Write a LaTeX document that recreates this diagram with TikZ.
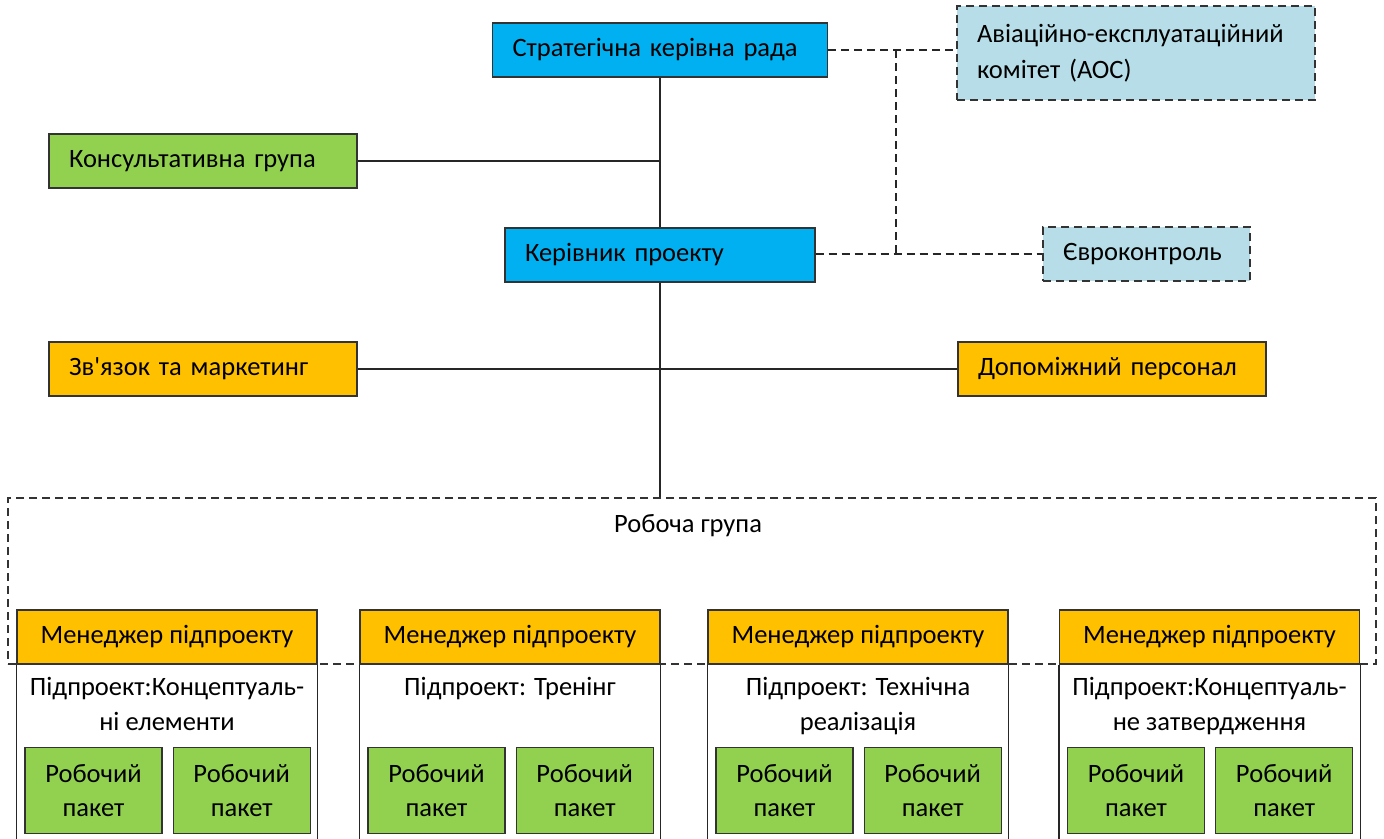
\documentclass[tikz,border=0pt]{standalone}
\usepackage{fontspec}
\setmainfont{Carlito}
\usetikzlibrary{positioning}
\definecolor{radablue}{HTML}{00B0F0}
\definecolor{aocblue}{HTML}{B7DEE8}
\definecolor{pkgreen}{HTML}{92D050}
\definecolor{mgorange}{HTML}{FFC000}
\tikzset{
	box/.style={draw=black!80, line width=1.2pt, minimum height=54pt, inner xsep=20pt, inner ysep=0pt, font=\fontsize{26.5}{36}\selectfont},
	wbox/.style={box, align=left, text width=#1},
	dbox/.style={dash pattern=on 8pt off 5pt},
	link/.style={line width=1.2pt, draw=black!85},
	dlink/.style={link, dash pattern=on 8pt off 5pt},
	header/.style={box, fill=mgorange, minimum width=300pt, align=center},
	body/.style={inner sep=0pt, align=center, font=\fontsize{26.5}{35}\selectfont},
	paket/.style={box, fill=pkgreen, minimum width=137pt, minimum height=86pt, inner xsep=2pt, align=center, font=\fontsize{26.5}{34}\selectfont},
}

\begin{document}
\begin{tikzpicture}[x=1pt, y=-1pt]
			\useasboundingbox[fill=white] (0,0) rectangle (1384,838);
			\coordinate (bottom) at (0,850);
			% upper part
			\node[wbox=295pt, fill=radablue] (rada) at (660,50) {Стратегічна керівна рада};
			\node[wbox=318pt, fill=aocblue, dbox, minimum height=94pt] (aoc) at (1136,53) {Авіаційно-експлуатаційний\\комітет (АОС)};
			\node[wbox=268pt, fill=pkgreen] (konsult) at (203,161) {Консультативна група};
			\node[wbox=270pt, fill=radablue] (kerivnyk) at (660,255) {Керівник проекту};
			\node[wbox=167pt, fill=aocblue, dbox] (evro) at (1146.5,254) {Євроконтроль};
			\node[wbox=268pt, fill=mgorange] (zvyazok) at (203,369) {Зв\textquotesingle язок та маркетинг};
			\node[wbox=268pt, fill=mgorange] (dopom) at (1112,369) {Допоміжний персонал};
			\coordinate (j1) at (896,50);
			\draw[link] (rada) -- (kerivnyk);
			\draw[link] (konsult.east) -- (konsult.east -| rada.south);
			\draw[link] (zvyazok) -- (dopom);
			\draw[dlink] (rada.east |- j1) -- (j1 -| aoc.west);
			\draw[dlink] (j1) -- (j1 |- evro.west);
			\draw[dlink] (kerivnyk.east |- evro.west) -- (evro.west);
			% working group
			\node[draw=black!80, line width=1.2pt, dbox, minimum width=1368pt, minimum height=166pt, inner sep=0pt] (grupa) at (692,581) {};
			\node[body] (grlabel) at (688,526) {Робоча група};
			\draw[link] (kerivnyk.south) -- (kerivnyk.south |- grupa.north);
			% subprojects
			\node[header] (h1) at (167,637) {Менеджер підпроекту};
			\node[header] (h2) at (510,637) {Менеджер підпроекту};
			\node[header] (h3) at (858,637) {Менеджер підпроекту};
			\node[header] (h4) at (1209.5,637) {Менеджер підпроекту};
			\foreach \h in {h1,h2,h3,h4}
				\draw[link] (\h.south west) -- (\h.south west |- bottom) (\h.south east) -- (\h.south east |- bottom);
			\node[body, below=12pt of h1] (s1) {Підпроект:Концептуаль-\\ні елементи};
			\node[body, below=12pt of h2] (s2) {Підпроект: Тренінг};
			\node[body, below=12pt of h3] (s3) {Підпроект: Технічна\\реалізація};
			\node[body, below=12pt of h4] (s4) {Підпроект:Концептуаль-\\не затвердження};
			\node[paket, below right=82pt and 8pt of h1.south west] (p1a) {Робочий\\пакет};
			\node[paket, right=10pt of p1a] (p1b) {Робочий\\пакет};
			\node[paket, below right=82pt and 8pt of h2.south west] (p2a) {Робочий\\пакет};
			\node[paket, right=10pt of p2a] (p2b) {Робочий\\пакет};
			\node[paket, below right=82pt and 8pt of h3.south west] (p3a) {Робочий\\пакет};
			\node[paket, right=10pt of p3a] (p3b) {Робочий\\пакет};
			\node[paket, below right=82pt and 8pt of h4.south west] (p4a) {Робочий\\пакет};
			\node[paket, right=10pt of p4a] (p4b) {Робочий\\пакет};
		\end{tikzpicture}
\end{document}
